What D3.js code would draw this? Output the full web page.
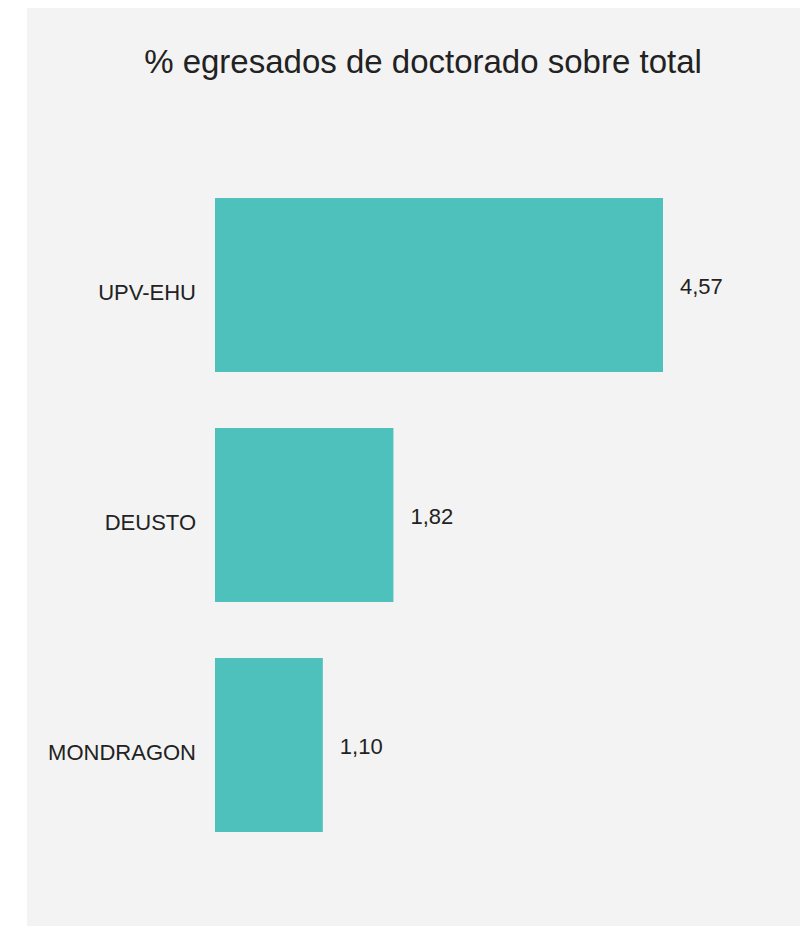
<!DOCTYPE html>
<html lang="es">
<head>
<meta charset="UTF-8">
<script src="https://d3js.org/d3.v7.min.js"></script>
<style>
  body { margin: 0; background: #fff; }
  text { font-family: "Liberation Sans", Arial, sans-serif; }
</style>
</head>
<body>
<svg id="canvas"></svg>
<script>
let universidades = ['UPV-EHU', 'DEUSTO', 'MONDRAGON']
let valores = [4.57, 1.82, 1.10]
let titulo = '% egresados de doctorado sobre total'

let width = 800
let height = 926

let svg = d3.select('#canvas')
    .attr('width', width)
    .attr('height', height)

// fondo gris
svg.append('rect')
    .attr('x', 27)
    .attr('y', 8)
    .attr('width', width - 27)
    .attr('height', 918)
    .attr('fill', '#f3f3f3')

svg.append('text')
    .attr('x', 423)
    .attr('y', 73)
    .attr('text-anchor', 'middle')
    .attr('font-size', 33)
    .attr('fill', '#222')
    .text(titulo)

let xScale = d3.scaleLinear()
    .domain([0, 4.57])
    .range([215, 663])

let yScale = d3.scaleBand()
    .domain(universidades)
    .range([170, 860])
    .paddingInner(0.2435)
    .paddingOuter(0.12175)

let fmt = v => d3.format('.2f')(v).replace('.', ',')

let filas = universidades.map((u, i) => ({ nombre: u, valor: valores[i] }))

svg.selectAll('.bar')
    .data(filas)
    .enter()
    .append('rect')
    .attr('class', 'bar')
    .attr('x', xScale(0))
    .attr('y', d => yScale(d.nombre))
    .attr('width', d => xScale(d.valor) - xScale(0))
    .attr('height', yScale.bandwidth())
    .attr('fill', '#4fc1bd')

// etiquetas del eje
svg.selectAll('.cat')
    .data(filas)
    .enter()
    .append('text')
    .attr('class', 'cat')
    .attr('x', 196)
    .attr('y', d => yScale(d.nombre) + yScale.bandwidth() / 2 + 7)
    .attr('dy', '0.35em')
    .attr('text-anchor', 'end')
    .attr('font-size', 22)
    .attr('fill', '#222')
    .text(d => d.nombre)

// valores
svg.selectAll('.val')
    .data(filas)
    .enter()
    .append('text')
    .attr('class', 'val')
    .attr('x', d => xScale(d.valor) + 17)
    .attr('y', d => yScale(d.nombre) + yScale.bandwidth() / 2 + 1)
    .attr('dy', '0.35em')
    .attr('font-size', 22)
    .attr('fill', '#222')
    .text(d => fmt(d.valor))
</script>
</body>
</html>
